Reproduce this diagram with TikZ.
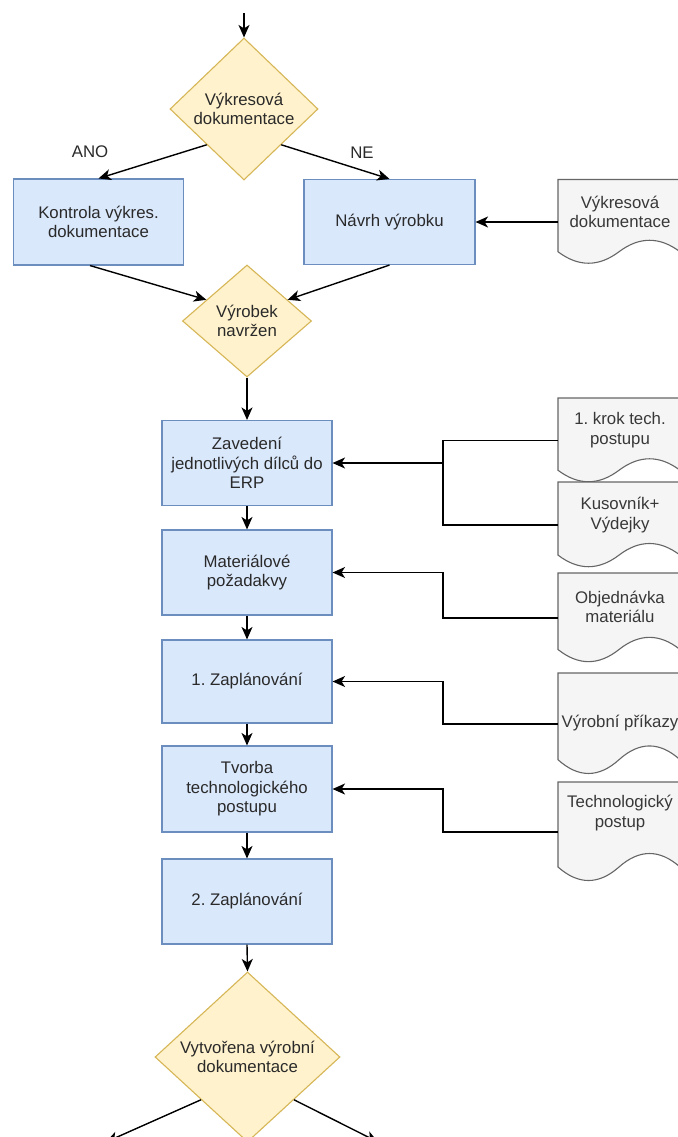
\documentclass[tikz,border=0pt]{standalone}
\usepackage{fontspec}
\setmainfont{Liberation Sans}
\usetikzlibrary{shapes.geometric,arrows.meta,calc}

\definecolor{procfill}{HTML}{DAE8FC}
\definecolor{procline}{HTML}{6C8EBF}
\definecolor{decfill}{HTML}{FFF2CC}
\definecolor{decline}{HTML}{D6B656}
\definecolor{docfill}{HTML}{F5F5F5}
\definecolor{docline}{HTML}{666666}
\definecolor{ink}{HTML}{2A2A2A}
\definecolor{docink}{HTML}{383838}

\tikzset{
  every node/.style={font=\fontsize{16.8bp}{19.5bp}\selectfont\frenchspacing, text=ink},
  proc/.style={rectangle, draw=procline, fill=procfill, line width=1.1bp,
    minimum width=170bp, minimum height=85bp, align=center, inner sep=0pt},
  dec/.style={diamond, draw=decline, fill=decfill, line width=1.1bp,
    align=center, inner sep=0pt},
  docshape/.style={draw=docline, fill=docfill, line width=1.1bp},
  docbox/.style={rectangle, inner sep=0pt},
  doctext/.style={text=docink, align=center},
  flow/.style={draw=black, line width=1.4bp,
    -{Stealth[length=12.5bp,width=11bp,inset=3.5bp]}},
  plain/.style={draw=black, line width=1.4bp},
  lbl/.style={text=ink},
}

% paper document symbol: name, left, top, width, height, text baseline centre, text
\newcommand\paperdoc[7]{%
  \path[docshape] (#2,#3) -- ({#2+#4},#3) -- ({#2+#4},{#3+0.85*#5})
     .. controls ({#2+5*#4/6},{#3+0.67*#5}) and ({#2+2*#4/3},{#3+0.67*#5}) .. ({#2+#4/2},{#3+0.85*#5})
     .. controls ({#2+#4/3},{#3+1.03*#5}) and ({#2+#4/6},{#3+1.03*#5}) .. (#2,{#3+0.85*#5}) -- cycle;
  \node[docbox, minimum width=#4bp, minimum height=#5bp] (#1) at ({#2+#4/2},{#3+#5/2}) {};
  \node[doctext] (#1-t) at ({#2+#4/2+1},#6) {#7};
}

\begin{document}
\begin{tikzpicture}[x=1bp, y=-1bp]
\useasboundingbox (0,0) rectangle (678,1137);
\clip (0,0) rectangle (678,1137);
\fill[white] (0,0) rectangle (678,1137);

% decisions and process steps
\node[dec, minimum width=148bp, minimum height=142bp] (q1) at (244,109) {Výkresová\\dokumentace};
\node[proc, minimum height=86bp] (kon) at (98.5,222) {Kontrola výkres.\\dokumentace};
\node[proc, minimum width=171bp] (nav) at (389.5,222) {Návrh výrobku};
\node[dec, minimum width=129bp, minimum height=112bp] (q2) at (247,321) {Výrobek\\navržen};
\node[proc] (zav) at (247,463) {Zavedení\\jednotlivých dílců do\\ERP};
\node[proc] (mat) at (247,572.5) {Materiálové\\požadakvy};
\node[proc, minimum height=83bp] (pl1) at (247,681.5) {1. Zaplánování};
\node[proc, minimum height=86bp] (tvo) at (247,789) {Tvorba\\technologického\\postupu};
\node[proc] (pl2) at (247,901.5) {2. Zaplánování};
\node[dec, minimum width=185bp, minimum height=170bp] (q3) at (247.5,1057) {Vytvořena výrobní\\dokumentace};

% branch labels
\node[lbl] (ano) at (90,152) {ANO};
\node[lbl] (ne) at (362,153) {NE};

% input documents
\paperdoc{dA}{558}{179.5}{122}{85}{212}{Výkresová\\dokumentace}
\paperdoc{dB}{558}{398}{122}{85}{430}{1. krok tech.\\postupu}
\paperdoc{dC}{558}{482}{122}{86}{515}{Kusovník+\\Výdejky}
\paperdoc{dD}{558}{573}{122}{90}{607}{Objednávka\\materiálu}
\paperdoc{dE}{558}{673}{122}{102}{723}{Výrobní příkazy}
\paperdoc{dF}{558}{782}{122}{100}{813}{Technologický\\postup}

% main flow
\coordinate (start) at (244,13);
\draw[flow] (start) -- (q1.north);
\draw[flow] (q1.south west) -- (kon.north);
\draw[flow] (q1.south east) -- (nav.north);
\draw[flow] (dA.west) -- (nav.east);
\draw[flow] ([xshift=-8.5bp]kon.south) -- ($(q2.west)!0.375!(q2.north)$);
\draw[flow] (nav.south) -- ($(q2.east)!0.375!(q2.north)$);
\draw[flow] (q2.south) -- (zav.north);
\draw[flow] (zav.south) -- (mat.north);
\draw[flow] (mat.south) -- (pl1.north);
\draw[flow] (pl1.south) -- (tvo.north);
\draw[flow] (tvo.south) -- (pl2.north);
\draw[flow] (pl2.south) -- (q3.north);

% document inputs
\coordinate (bar) at (443,0);
\draw[plain] (dB.west) -| (bar |- dC.west) -- (dC.west);
\draw[flow] (bar |- zav.east) -- (zav.east);
\draw[flow] (dD.west) -| (bar |- mat.east) -- (mat.east);
\draw[flow] (dE.west) -| (bar |- pl1.east) -- (pl1.east);
\draw[flow] (dF.west) -| (bar |- tvo.east) -- (tvo.east);

% outgoing branches
\coordinate (outL) at (106,1142);
\coordinate (outR) at (378,1142);
\draw[flow] (q3.south west) -- (outL);
\draw[flow] (q3.south east) -- (outR);
\end{tikzpicture}
\end{document}
